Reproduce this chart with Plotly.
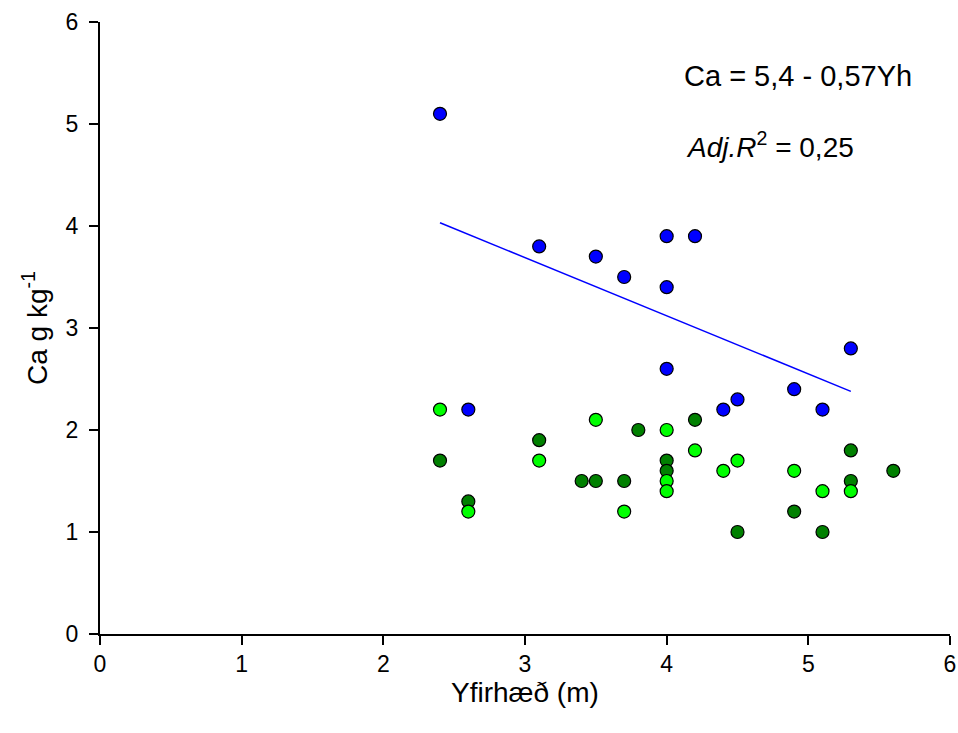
import plotly.graph_objects as go

# Data
blue_x = [2.4, 2.6, 3.1, 3.5, 3.7, 4.0, 4.2, 4.0, 4.0, 4.4, 4.5, 4.9, 5.1, 5.3]
blue_y = [5.1, 2.2, 3.8, 3.7, 3.5, 3.9, 3.9, 3.4, 2.6, 2.2, 2.3, 2.4, 2.2, 2.8]

light_x = [2.4, 2.6, 3.1, 3.5, 3.7, 4.0, 4.0, 4.0, 4.2, 4.4, 4.5, 4.9, 5.1, 5.3]
light_y = [2.2, 1.2, 1.7, 2.1, 1.2, 2.0, 1.5, 1.4, 1.8, 1.6, 1.7, 1.6, 1.4, 1.4]

dark_x = [2.4, 2.6, 3.1, 3.4, 3.5, 3.7, 3.8, 4.0, 4.0, 4.2, 4.5, 4.9, 5.1, 5.3, 5.3, 5.6]
dark_y = [1.7, 1.3, 1.9, 1.5, 1.5, 1.5, 2.0, 1.7, 1.6, 2.1, 1.0, 1.2, 1.0, 1.8, 1.5, 1.6]

intercept = 5.4
slope = -0.57
fit_x = [2.4, 5.3]
fit_y = [intercept + slope * x for x in fit_x]

x_ticks = [0, 1, 2, 3, 4, 5, 6]
y_ticks = [0, 1, 2, 3, 4, 5, 6]

x_title = "Yfirhæð (m)"
y_title = "Ca g kg<sup>-1</sup>"

FONT = "Liberation Sans"

fig = go.Figure()

marker_common = dict(size=13, line=dict(color="black", width=1.2))

fig.add_trace(go.Scatter(x=fit_x, y=fit_y, mode="lines",
                         line=dict(color="#0000FF", width=1.5), showlegend=False))
fig.add_trace(go.Scatter(x=dark_x, y=dark_y, mode="markers",
                         marker=dict(color="#008000", **marker_common), showlegend=False))
fig.add_trace(go.Scatter(x=light_x, y=light_y, mode="markers",
                         marker=dict(color="#00FF00", **marker_common), showlegend=False))
fig.add_trace(go.Scatter(x=blue_x, y=blue_y, mode="markers",
                         marker=dict(color="#0000FF", **marker_common), showlegend=False))

fig.add_annotation(x=4.11, y=5.47, xref="x", yref="y", xanchor="left", yanchor="middle",
                   text="Ca = 5,4 - 0,57Yh", showarrow=False,
                   font=dict(family=FONT, size=29, color="black"))
fig.add_annotation(x=4.12, y=4.79, xref="x", yref="y", xanchor="left", yanchor="middle",
                   text="<i>Adj.R</i><sup>2</sup> = 0,25", showarrow=False,
                   font=dict(family=FONT, size=28, color="black"))

# axis titles
fig.add_annotation(x=0.5, y=-0.0948, xref="paper", yref="paper", xanchor="center", yanchor="middle",
                   text=x_title, showarrow=False, font=dict(family=FONT, size=28, color="black"))
fig.add_annotation(x=-0.0765, y=0.5, xref="paper", yref="paper", xanchor="center", yanchor="middle",
                   text=y_title, textangle=-90, showarrow=False,
                   font=dict(family=FONT, size=28, color="black"))

fig.update_layout(
    width=958, height=733,
    margin=dict(l=100, r=8, t=22, b=99),
    paper_bgcolor="white", plot_bgcolor="white",
    font=dict(family=FONT, color="black"),
    xaxis=dict(range=[0, 6], tickvals=x_ticks, ticktext=[str(v) for v in x_ticks],
               showgrid=False, zeroline=False, showline=True, linecolor="black", linewidth=1.5,
               ticks="outside", ticklen=9, tickwidth=1.5, tickcolor="black",
               tickfont=dict(size=23, family=FONT),
               automargin=False),
    yaxis=dict(range=[0, 6], tickvals=y_ticks, ticktext=[str(v) + "\u00a0" for v in y_ticks],
               showgrid=False, zeroline=False, showline=True, linecolor="black", linewidth=1.5,
               ticks="outside", ticklen=9, tickwidth=1.5, tickcolor="black",
               tickfont=dict(size=23, family=FONT),
               automargin=False),
)

fig.write_html("out.html", config={"displayModeBar": False},
               post_script="document.body.style.margin='0';document.body.style.overflow='hidden';")
